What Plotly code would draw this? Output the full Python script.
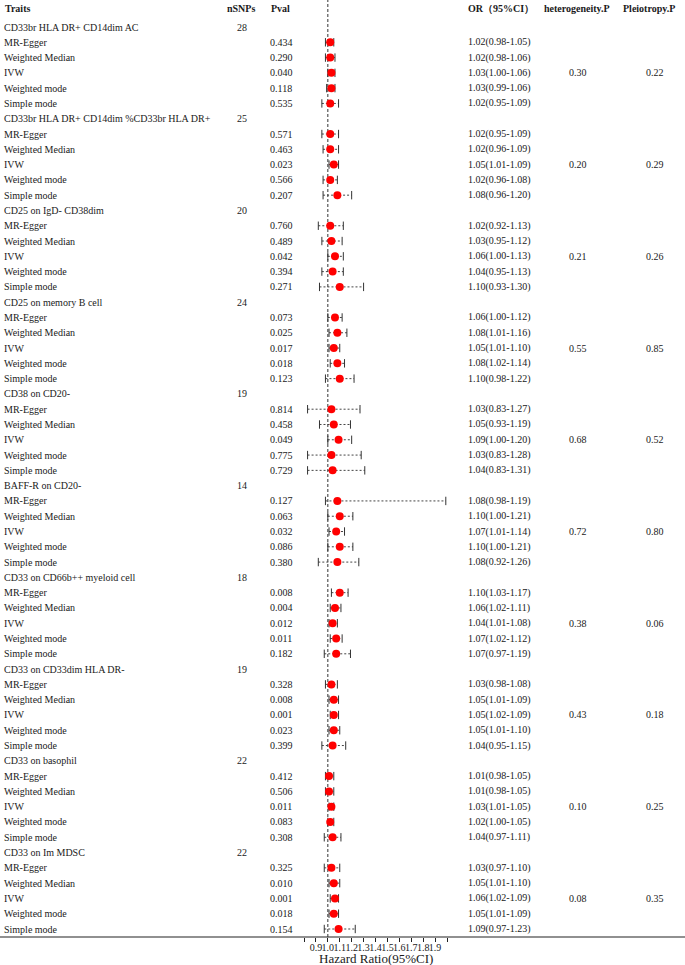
import plotly.graph_objects as go

# forest plot: MR results for immune traits
traits = ["CD33br HLA DR+ CD14dim AC",
          "CD33br HLA DR+ CD14dim %CD33br HLA DR+",
          "CD25 on IgD- CD38dim",
          "CD25 on memory B cell",
          "CD38 on CD20-",
          "BAFF-R on CD20-",
          "CD33 on CD66b++ myeloid cell",
          "CD33 on CD33dim HLA DR-",
          "CD33 on basophil",
          "CD33 on Im MDSC"]
nsnps = [28, 25, 20, 24, 19, 14, 18, 19, 22, 22]
methods = ["MR-Egger", "Weighted Median", "IVW", "Weighted mode", "Simple mode"]

pval = [["0.434", "0.290", "0.040", "0.118", "0.535"],
        ["0.571", "0.463", "0.023", "0.566", "0.207"],
        ["0.760", "0.489", "0.042", "0.394", "0.271"],
        ["0.073", "0.025", "0.017", "0.018", "0.123"],
        ["0.814", "0.458", "0.049", "0.775", "0.729"],
        ["0.127", "0.063", "0.032", "0.086", "0.380"],
        ["0.008", "0.004", "0.012", "0.011", "0.182"],
        ["0.328", "0.008", "0.001", "0.023", "0.399"],
        ["0.412", "0.506", "0.011", "0.083", "0.308"],
        ["0.325", "0.010", "0.001", "0.018", "0.154"]]

or_est = [[1.02, 1.02, 1.03, 1.03, 1.02],
          [1.02, 1.02, 1.05, 1.02, 1.08],
          [1.02, 1.03, 1.06, 1.04, 1.10],
          [1.06, 1.08, 1.05, 1.08, 1.10],
          [1.03, 1.05, 1.09, 1.03, 1.04],
          [1.08, 1.10, 1.07, 1.10, 1.08],
          [1.10, 1.06, 1.04, 1.07, 1.07],
          [1.03, 1.05, 1.05, 1.05, 1.04],
          [1.01, 1.01, 1.03, 1.02, 1.04],
          [1.03, 1.05, 1.06, 1.05, 1.09]]
or_lo = [[0.98, 0.98, 1.00, 0.99, 0.95],
         [0.95, 0.96, 1.01, 0.96, 0.96],
         [0.92, 0.95, 1.00, 0.95, 0.93],
         [1.00, 1.01, 1.01, 1.02, 0.98],
         [0.83, 0.93, 1.00, 0.83, 0.83],
         [0.98, 1.00, 1.01, 1.00, 0.92],
         [1.03, 1.02, 1.01, 1.02, 0.97],
         [0.98, 1.01, 1.02, 1.01, 0.95],
         [0.98, 0.98, 1.01, 1.00, 0.97],
         [0.97, 1.01, 1.02, 1.01, 0.97]]
or_hi = [[1.05, 1.06, 1.06, 1.06, 1.09],
         [1.09, 1.09, 1.09, 1.08, 1.20],
         [1.13, 1.12, 1.13, 1.13, 1.30],
         [1.12, 1.16, 1.10, 1.14, 1.22],
         [1.27, 1.19, 1.20, 1.28, 1.31],
         [1.19, 1.21, 1.14, 1.21, 1.26],
         [1.17, 1.11, 1.08, 1.12, 1.19],
         [1.08, 1.09, 1.09, 1.10, 1.15],
         [1.05, 1.05, 1.05, 1.05, 1.11],
         [1.10, 1.10, 1.09, 1.09, 1.23]]
# in the source the BAFF-R MR-Egger bar runs to the end of the axis
drawn_hi = {(5, 0): 1.99}

het_p = [0.30, 0.20, 0.21, 0.55, 0.68, 0.72, 0.38, 0.43, 0.10, 0.08]
pleio_p = [0.22, 0.29, 0.26, 0.85, 0.52, 0.80, 0.06, 0.18, 0.25, 0.35]

x_ticks = [0.8, 0.9, 1.0, 1.1, 1.2, 1.3, 1.4, 1.5, 1.6, 1.7, 1.8, 1.9, 2.0]

W, H = 685, 965
B = 28  # bottom margin for the axis
FONT = "Liberation Serif"
TXT = "#1a1a1a"

ann = []
def txt(xpx, row, s, anchor="left", bold=False, size=10):
    ann.append(dict(x=xpx / W, xref="paper", y=row, yref="y", text=f"<b>{s}</b>" if bold else s,
                    showarrow=False, xanchor=anchor, yanchor="middle",
                    font=dict(family=FONT, size=size, color=TXT)))

# header
hrow = -1.24
txt(3, hrow, "Traits", bold=True)
txt(241, hrow, "nSNPs", "center", bold=True)
txt(280, hrow, "Pval", "center", bold=True)
txt(466, hrow, "OR（95%CI）", bold=True)
txt(577, hrow, "heterogeneity.P", "center", bold=True)
txt(649, hrow, "Pleiotropy.P", "center", bold=True)

ci_x, ci_y, cap_x, cap_y, pt_x, pt_y = [], [], [], [], [], []
for g, name in enumerate(traits):
    r0 = g * 6
    txt(2, r0, name)
    txt(242, r0, str(nsnps[g]), "center")
    for m, meth in enumerate(methods):
        r = r0 + m + 1
        lo, hi, est = or_lo[g][m], or_hi[g][m], or_est[g][m]
        txt(2, r, meth)
        txt(281, r, pval[g][m], "center")
        txt(466, r, f"{est:.2f}({lo:.2f}-{hi:.2f})")
        if meth == "IVW":
            txt(578, r, f"{het_p[g]:.2f}", "center")
            txt(655, r, f"{pleio_p[g]:.2f}", "center")
        hd = drawn_hi.get((g, m), hi)
        ci_x += [lo, hd, None]
        ci_y += [r, r, None]
        cap_x += [lo, hd]
        cap_y += [r, r]
        pt_x.append(est)
        pt_y.append(r)

# axis title
ann.append(dict(x=375.5 / W, xref="paper", y=(H - B - 958) / (H - B), yref="paper",
                text="Hazard Ratio(95%CI)", showarrow=False, xanchor="center", yanchor="middle",
                font=dict(family=FONT, size=13, color=TXT)))

fig = go.Figure()
fig.add_trace(go.Scatter(x=ci_x, y=ci_y, mode="lines", line=dict(color="#444", width=1, dash="2px,2px"),
                         hoverinfo="skip", showlegend=False))
fig.add_trace(go.Scatter(x=cap_x, y=cap_y, mode="markers",
                         marker=dict(symbol="line-ns", size=6, line=dict(color="#333", width=1)),
                         hoverinfo="skip", showlegend=False))
fig.add_trace(go.Scatter(x=pt_x, y=pt_y, mode="markers",
                         marker=dict(color="#ff0000", size=8), showlegend=False))

n_rows = len(traits) * 6
row_h = (929 - 27) / (n_rows - 1)
y_top = -27 / row_h
y_bot = (937 - 27) / row_h

fig.update_layout(
    width=W, height=H, margin=dict(l=0, r=0, t=0, b=B),
    paper_bgcolor="white", plot_bgcolor="white",
    annotations=ann,
    xaxis=dict(domain=[304 / W, 447 / W], range=[0.8, 2.0], tickvals=x_ticks,
               ticktext=["" if (v < 0.85 or v > 1.95) else f"{v:.1f}" for v in x_ticks],
               ticks="outside", ticklen=4, tickcolor="#222", tickangle=0, ticklabelstandoff=-3,
               tickfont=dict(family=FONT, size=10, color=TXT), showgrid=False,
               zeroline=False, showline=False, fixedrange=True),
    yaxis=dict(range=[y_bot, y_top], visible=False, fixedrange=True),
    shapes=[dict(type="line", xref="x", yref="paper", x0=1.0, x1=1.0, y0=0, y1=1,
                 line=dict(color="#333", width=1, dash="3px,2px"), layer="below"),
            dict(type="line", xref="paper", yref="paper", x0=0, x1=1, y0=0, y1=0,
                 line=dict(color="#222", width=1.2))],
)

# drop the default body margin so the figure fills the window
fig.write_html("out.html", config={"displayModeBar": False},
               post_script="document.body.style.margin='0';")
